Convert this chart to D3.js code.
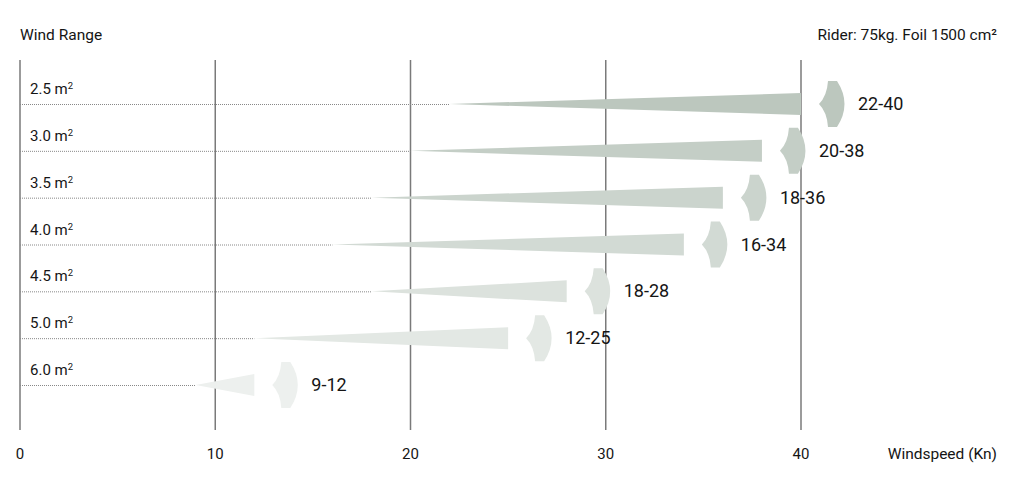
<!DOCTYPE html>
<html><head><meta charset="utf-8">
<script src="https://cdn.jsdelivr.net/npm/d3@7"></script>
<style>body{margin:0;background:#fff;}svg{display:block;font-family:Roboto,"Noto Sans",sans-serif;}</style>
</head><body><svg id="c" width="1024" height="487"></svg>
<script>
const sizes = ["2.5", "3.0", "3.5", "4.0", "4.5", "5.0", "6.0"];
const minWind = [22, 20, 18, 16, 18, 12, 9];
const maxWind = [40, 38, 36, 34, 28, 25, 12];
const colors = ["#bcc7be", "#c4cec6", "#cbd4cd", "#d2dad4", "#dce2dd", "#e3e8e4", "#edf0ee"];
const xTicks = [0, 10, 20, 30, 40];

const svg = d3.select("#c");
const x = d3.scaleLinear().domain([0, 40]).range([20, 801]);
const y = d3.scalePoint().domain(sizes).range([104, 385]);
const ink = "#151515";

// vertical grid lines
svg.append("g").selectAll("line").data(xTicks).join("line")
  .attr("x1", d => x(d)).attr("x2", d => x(d))
  .attr("y1", 60).attr("y2", 430)
  .attr("stroke", "#7a7a7a").attr("stroke-width", 1.5);

// tick labels
svg.append("g").selectAll("text").data(xTicks).join("text")
  .attr("x", d => x(d)).attr("y", 459)
  .attr("text-anchor", "middle").attr("font-size", 15).attr("fill", ink)
  .text(d => d);

svg.append("text").attr("x", 997).attr("y", 459).attr("text-anchor", "end")
  .attr("font-size", 15.5).attr("fill", ink).text("Windspeed (Kn)");
svg.append("text").attr("x", 20).attr("y", 40)
  .attr("font-size", 15.5).attr("fill", ink).text("Wind Range");
svg.append("text").attr("x", 997).attr("y", 40).attr("text-anchor", "end")
  .attr("font-size", 15.5).attr("fill", ink).text("Rider: 75kg. Foil 1500 cm²");

const rows = sizes.map((s, i) => ({s, lo: minWind[i], hi: maxWind[i], c: colors[i]}));
const g = svg.append("g").selectAll("g").data(rows).join("g");

// dotted lines
g.append("line")
  .attr("x1", x(0)).attr("x2", d => x(d.lo))
  .attr("y1", d => y(d.s) + 0.5).attr("y2", d => y(d.s) + 0.5)
  .attr("stroke", "#888").attr("stroke-width", 1).attr("stroke-dasharray", "1,1");

// wedges
const hw = 11;
g.append("path")
  .attr("fill", d => d.c)
  .attr("d", d => {
    const x0 = x(d.lo), x1 = x(d.hi), cy = y(d.s);
    return `M${x0},${cy} L${x1},${cy - hw} L${x1},${cy + hw} Z`;
  });

// sail shapes
g.append("path")
  .attr("fill", d => d.c)
  .attr("d", d => {
    const s = x(d.hi) + 18, cy = y(d.s);
    return `M${s},${cy} Q${s + 8},${cy - 8} ${s + 9},${cy - 23} L${s + 18},${cy - 23} Q${s + 33},${cy} ${s + 18},${cy + 23} L${s + 9},${cy + 23} Q${s + 8},${cy + 8} ${s},${cy} Z`;
  });

// value labels
g.append("text")
  .attr("x", d => x(d.hi) + 57).attr("y", d => y(d.s) + 6)
  .attr("font-size", 18).attr("fill", ink)
  .text(d => d.lo + "-" + d.hi);

// size labels
const lab = g.append("text")
  .attr("x", 30).attr("y", d => y(d.s) - 10)
  .attr("font-size", 15).attr("fill", ink);
lab.append("tspan").text(d => d.s + " m");
lab.append("tspan").attr("dy", -5).attr("font-size", 9.5).text("2");
</script>
</body></html>
